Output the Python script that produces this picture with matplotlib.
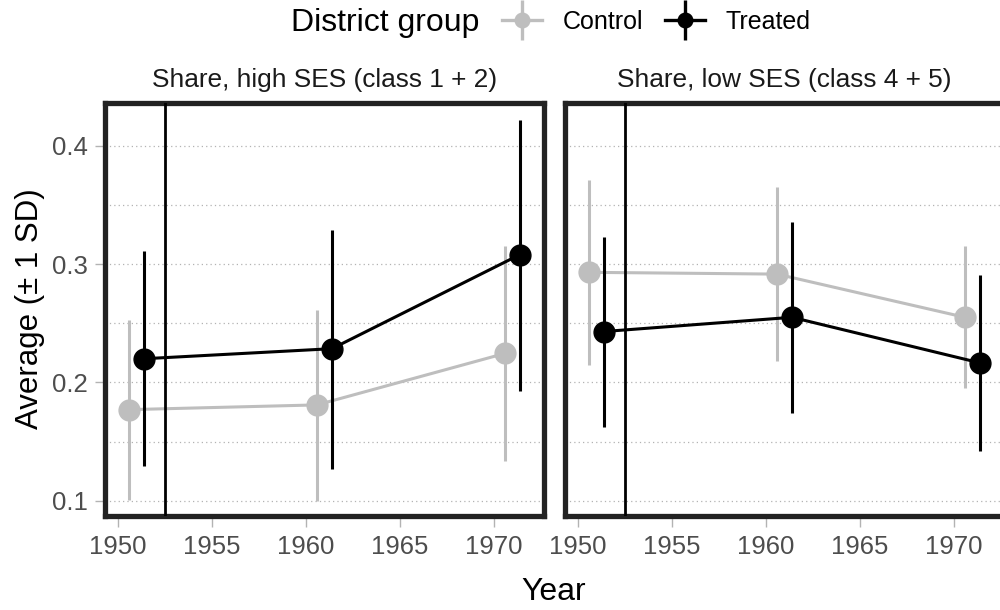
import matplotlib
matplotlib.use("Agg")
import matplotlib.pyplot as plt
from matplotlib.lines import Line2D
from matplotlib.legend_handler import HandlerTuple

plt.rcParams['font.family'] = ['Liberation Sans', 'DejaVu Sans']

# census years, dodged per group
years = [1951, 1961, 1971]
dodge = 0.4
panels = ["Share, high SES (class 1 + 2)", "Share, low SES (class 4 + 5)"]
groups = ["Control", "Treated"]
colors = {"Control": "#BEBEBE", "Treated": "#000000"}

# mean, lower (mean - sd), upper (mean + sd) per panel and group
high_ctrl_mean = [0.177, 0.181, 0.2245]
high_ctrl_lo = [0.101, 0.100, 0.134]
high_ctrl_hi = [0.253, 0.261, 0.3155]
high_trt_mean = [0.220, 0.2285, 0.308]
high_trt_lo = [0.129, 0.127, 0.193]
high_trt_hi = [0.311, 0.329, 0.422]

low_ctrl_mean = [0.293, 0.2915, 0.255]
low_ctrl_lo = [0.215, 0.218, 0.195]
low_ctrl_hi = [0.371, 0.365, 0.315]
low_trt_mean = [0.243, 0.255, 0.2165]
low_trt_lo = [0.1625, 0.1745, 0.142]
low_trt_hi = [0.323, 0.3355, 0.291]

data = {
    panels[0]: {"Control": (high_ctrl_mean, high_ctrl_lo, high_ctrl_hi),
                "Treated": (high_trt_mean, high_trt_lo, high_trt_hi)},
    panels[1]: {"Control": (low_ctrl_mean, low_ctrl_lo, low_ctrl_hi),
                "Treated": (low_trt_mean, low_trt_lo, low_trt_hi)},
}
cutoff = 1952.5

fig = plt.figure(figsize=(10, 6.1), dpi=100)
W, H = 1000, 610
pw, ph = 439.3, 413.6
lefts = [104.7, 564.7]
top = 102.7

axes = []
for i, name in enumerate(panels):
    ax = fig.add_axes([lefts[i] / W, (H - top - ph) / H, pw / W, ph / H])
    axes.append(ax)
    for g in groups:
        m, lo, hi = data[name][g]
        off = -dodge if g == "Control" else dodge
        xs = [y + off for y in years]
        c = colors[g]
        z = 2 if g == "Control" else 3
        ax.vlines(xs, lo, hi, color=c, lw=2.2, zorder=z)
        ax.plot(xs, m, color=c, lw=2.2, marker='o', ms=15, zorder=z)
    ax.axvline(cutoff, color='black', lw=2.0, zorder=4)

    ax.set_xlim(1949.31, 1972.68)
    ax.set_ylim(0.0869, 0.4363)
    ax.set_xticks([1950, 1955, 1960, 1965, 1970])
    ax.set_yticks([0.1, 0.2, 0.3, 0.4])
    ax.set_yticks([0.15, 0.25, 0.35], minor=True)
    ax.grid(axis='y', which='both', color='#b3b3b3', ls=(0, (1, 2.5)), lw=0.9)
    ax.set_axisbelow(True)
    for s in ax.spines.values():
        s.set_linewidth(3.8)
        s.set_color('#222222')
    ax.tick_params(axis='both', which='major', labelsize=18.5, labelcolor='#4d4d4d',
                   color='#b3b3b3', width=1)
    ax.tick_params(axis='x', which='major', length=7.7, pad=5.5)
    ax.tick_params(axis='y', which='major', length=7.0, pad=5.3)
    ax.tick_params(axis='y', which='minor', length=0)
    if i == 1:
        ax.tick_params(axis='y', left=False, labelleft=False)
    else:
        ax.set_yticklabels(['0.1', '0.2', '0.3', '0.4'])
    ax.set_title(name, fontsize=18.9, color='#1a1a1a', pad=11.5)

fig.text(554 / W, 1 - 592 / H, "Year", fontsize=23, ha='center', va='center')
fig.text(30 / W, 1 - 309 / H, "Average (\u00b1 1 SD)", fontsize=22.5, ha='center',
         va='center', rotation=90)

# legend along the top
fig.text(291 / W, 1 - 23 / H, "District group", fontsize=23, ha='left', va='center')
handles = []
for g in groups:
    c = colors[g]
    h1 = Line2D([], [], color=c, lw=2.4, marker='o', ms=10.5)
    h2 = Line2D([], [], color=c, lw=0, marker='|', ms=29, mew=2.4)
    handles.append((h1, h2))
fig.legend(handles, groups, loc='center left', bbox_to_anchor=(502 / W, 1 - 22 / H),
           ncol=2, frameon=False, fontsize=18, handlelength=1.6, handletextpad=0.84,
           columnspacing=0.84, borderpad=0, borderaxespad=0,
           handler_map={tuple: HandlerTuple(ndivide=1, pad=0)})

fig.savefig("out.png", dpi=100)
